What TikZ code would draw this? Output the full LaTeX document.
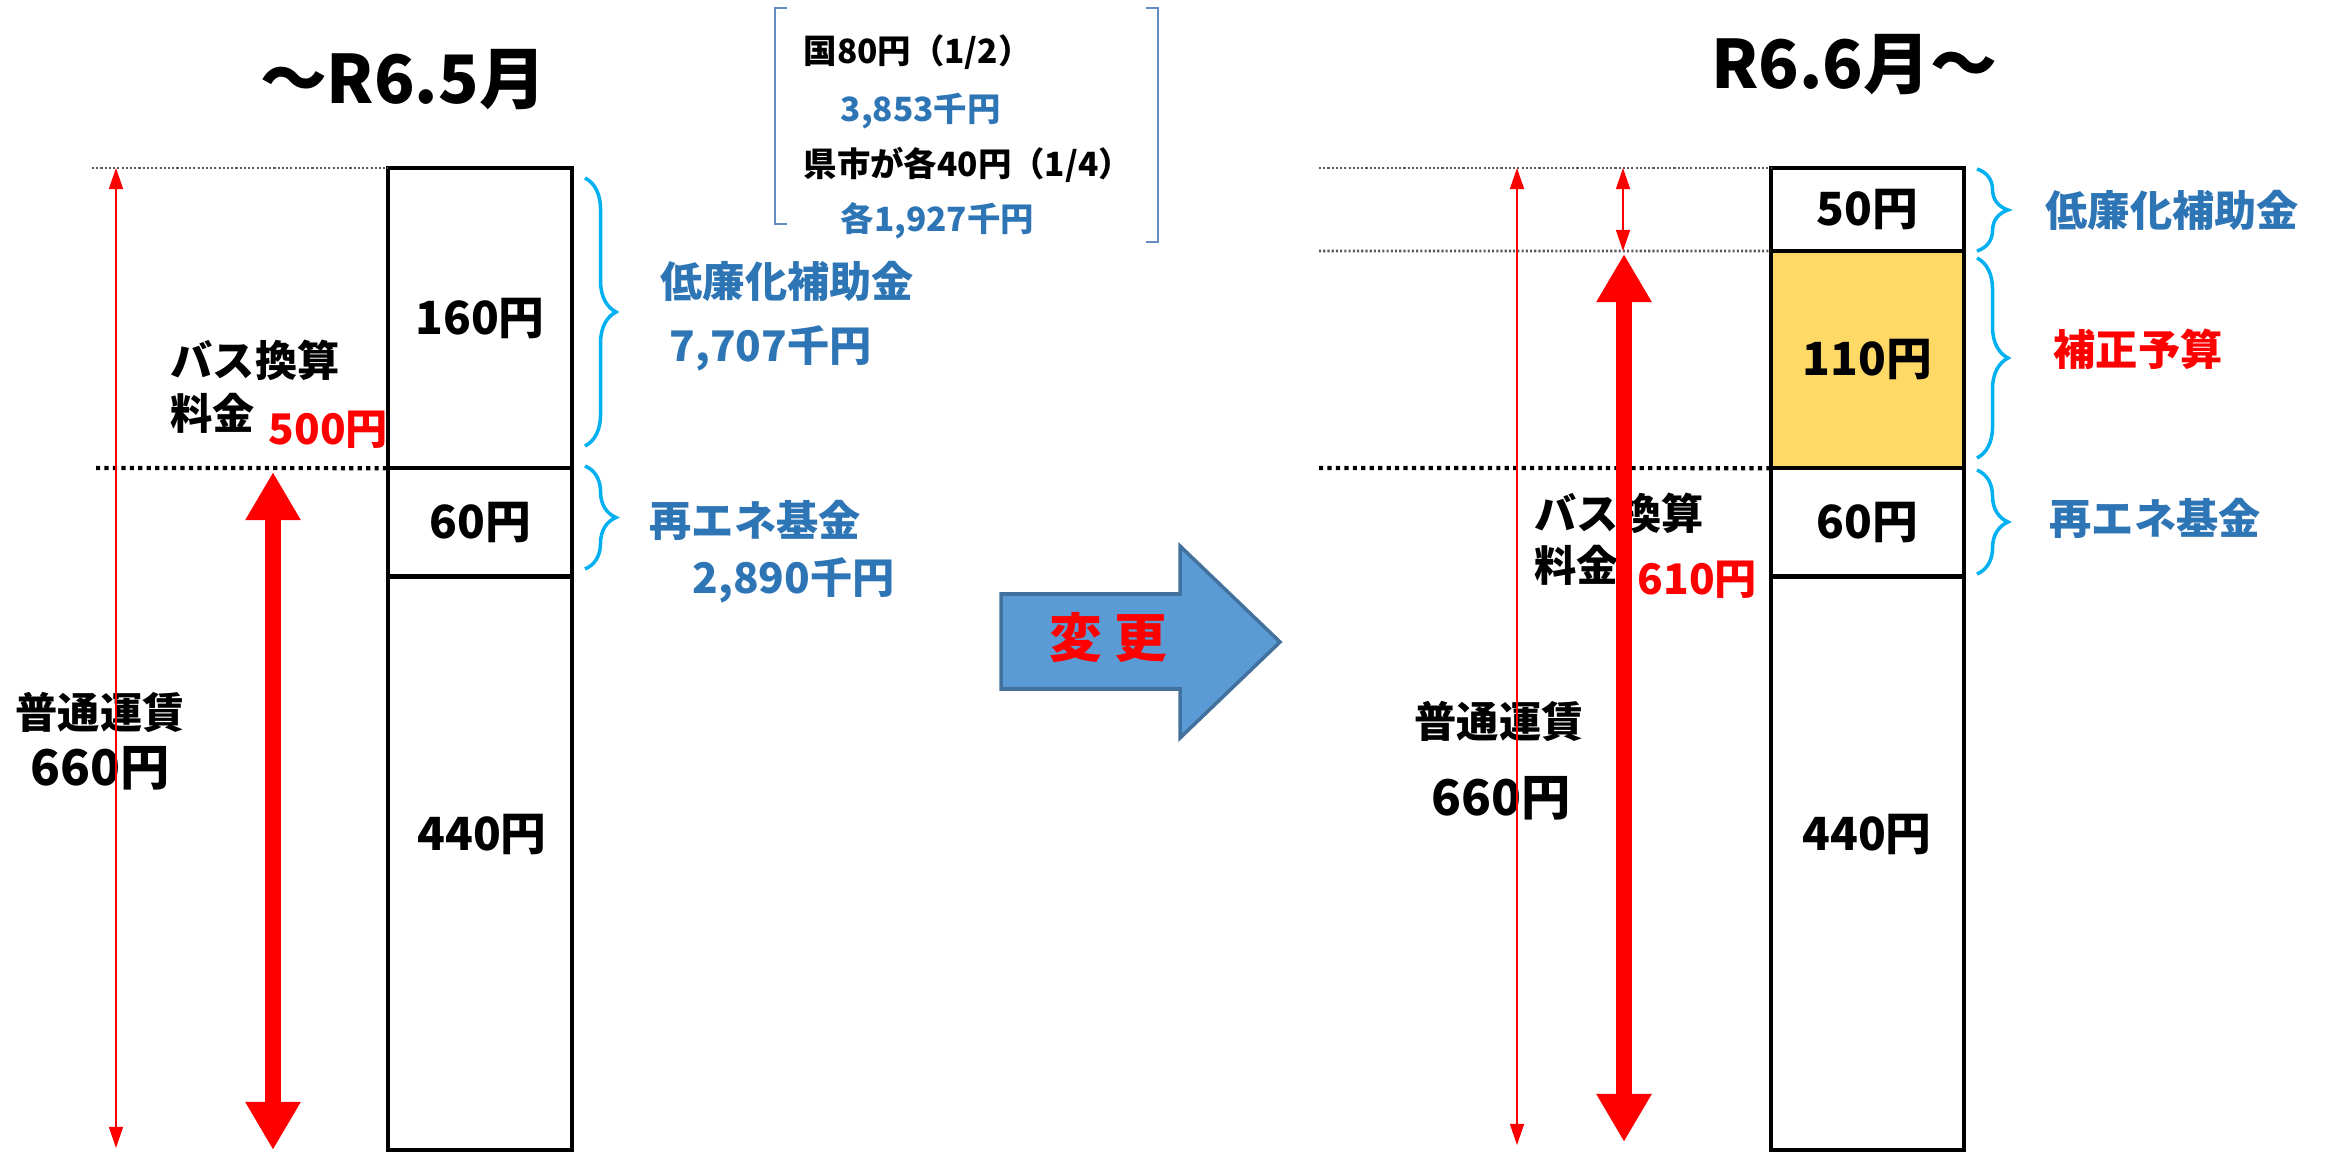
\documentclass[tikz,border=0pt]{standalone}
\usepackage{fontspec}
\setmainfont{Noto Sans CJK JP}
\usetikzlibrary{arrows.meta,decorations.pathreplacing}
\definecolor{fundblue}{RGB}{46,117,182}
\definecolor{bracecyan}{RGB}{0,176,240}
\definecolor{budgetyellow}{RGB}{255,217,102}
\definecolor{arrowblue}{RGB}{91,155,213}
\definecolor{arrowedge}{RGB}{65,113,156}
\definecolor{noteblue}{RGB}{101,141,196}

\begin{document}
\begin{tikzpicture}[x=0.01cm,y=-0.01cm,
	seg/.style={draw,line width=1.3pt,anchor=north west,inner sep=0pt,outer sep=0pt,font=\bfseries\fontsize{13}{15}\selectfont},
	num/.style={font=\bfseries\fontsize{13}{15}\selectfont},
	title/.style={font=\bfseries\fontsize{19}{22}\selectfont},
	lbl/.style={anchor=west,inner sep=0pt,font=\bfseries\fontsize{12}{14}\selectfont},
	note/.style={anchor=west,inner sep=0pt,font=\bfseries\fontsize{9.5}{11}\selectfont},
	fundbrace/.style={draw=bracecyan,line width=1pt,decorate,decoration={brace,amplitude=0.31cm}},
	guide/.style={line width=0.8pt,black!65,dash pattern=on 0.6pt off 0.6pt},
	midguide/.style={line width=1.2pt,dash pattern=on 1.2pt off 1.2pt},
	thinarrow/.style={red,line width=0.4pt,{Triangle[length=6pt,width=4pt]}-{Triangle[length=6pt,width=4pt]}},
	thickarrow/.style={red,line width=4.3pt,{Triangle[length=13.7pt,width=14.8pt]}-{Triangle[length=13.7pt,width=14.8pt]}}]
	\useasboundingbox (0,0) rectangle (2333,1152);
	%\draw[help lines,step=1cm] (0,0) grid (2333,1152);
	% before
	\node[title] (oldtitle) at (403,80) {～R6.5月};
	\node[seg,minimum width=1.84cm,minimum height=3cm] (oldsub) at (388,168) {160円};
	\node[seg,minimum width=1.84cm,minimum height=1.08cm] (oldfund) at (oldsub.south west) {60円};
	\node[seg,minimum width=1.84cm,minimum height=5.74cm] (oldbase) at (oldfund.south west) {};
	\node[num] (oldbasetxt) at (482,835) {440円};
	\coordinate (oldguideA) at (92,168);
	\coordinate (oldguideB) at (96,468);
	\draw[guide] (oldguideA) -- (oldsub.north west);
	\draw[midguide] (oldguideB) -- (oldfund.north west);
	\draw[fundbrace] (585,178) -- (585,446);
	\draw[fundbrace] (585,466) -- (585,569);
	\node[lbl,text=fundblue] (oldsublbl) at (660,281) {低廉化補助金};
	\node[lbl,text=fundblue] (oldsubsum) at (669,348) {7,707千円};
	\node[lbl,text=fundblue] (oldfundlbl) at (649,520) {再エネ基金};
	\node[lbl,text=fundblue] (oldfundsum) at (692,580) {2,890千円};
	\draw[noteblue,line width=0.8pt] (787,8) -- (775,8) -- (775,224) -- (787,224);
	\draw[noteblue,line width=0.8pt] (1146,8) -- (1158,8) -- (1158,242) -- (1146,242);
	\node[note] (notestate) at (803,52) {国80円（1/2）};
	\node[note,text=fundblue] (notestatesum) at (840,111) {3,853千円};
	\node[note] (notelocal) at (803,165) {県市が各40円（1/4）};
	\node[note,text=fundblue] (notelocalsum) at (840,221) {各1,927千円};
	\node[lbl] (oldbus) at (170,360) {バス換算};
	\node[lbl] (oldbusb) at (170,413) {料金};
	\node[lbl,red] (oldbusfare) at (268,430) {500円};
	\node[lbl] (oldfare) at (15,712) {普通運賃};
	\node[lbl,font=\bfseries\fontsize{14}{16}\selectfont] (oldfaresum) at (30,768) {660円};
	\coordinate (oldtop) at (116,168);
	\coordinate (oldfoot) at (116,1148);
	\coordinate (oldbustop) at (273,472);
	\coordinate (oldbusfoot) at (273,1150);
	\draw[thinarrow] (oldtop) -- (oldfoot);
	\draw[thickarrow] (oldbustop) -- (oldbusfoot);
	% change
	\draw[fill=arrowblue,draw=arrowedge,line width=1pt] (1001,594) -- (1180,594) -- (1180,546) -- (1280,642) -- (1180,738) -- (1180,689) -- (1001,689) -- cycle;
	\node[red,font=\bfseries\fontsize{15}{17}\selectfont] (change) at (1108,638) {変 更};
	% after
	\node[title] (newtitle) at (1854,65) {R6.6月～};
	\node[seg,minimum width=1.93cm,minimum height=0.83cm] (newsub) at (1771,168) {50円};
	\node[seg,fill=budgetyellow,minimum width=1.93cm,minimum height=2.17cm] (newbudget) at (newsub.south west) {110円};
	\node[seg,minimum width=1.93cm,minimum height=1.08cm] (newfund) at (newbudget.south west) {60円};
	\node[seg,minimum width=1.93cm,minimum height=5.74cm] (newbase) at (newfund.south west) {};
	\node[num] (newbasetxt) at (1867,835) {440円};
	\coordinate (newguideA) at (1319,168);
	\coordinate (newguideB) at (1319,251);
	\coordinate (newguideC) at (1319,468);
	\draw[guide] (newguideA) -- (newsub.north west);
	\draw[guide] (newguideB) -- (newbudget.north west);
	\draw[midguide] (newguideC) -- (newfund.north west);
	\draw[fundbrace] (1977,169) -- (1977,251);
	\draw[fundbrace] (1977,258) -- (1977,458);
	\draw[fundbrace] (1977,470) -- (1977,574);
	\node[lbl,text=fundblue] (newsublbl) at (2045,210) {低廉化補助金};
	\node[lbl,red] (newbudgetlbl) at (2053,349) {補正予算};
	\node[lbl,text=fundblue] (newfundlbl) at (2049,518) {再エネ基金};
	\node[lbl] (newbus) at (1534,513) {バス換算};
	\node[lbl] (newbusb) at (1534,565) {料金};
	\node[lbl,red] (newbusfare) at (1637,580) {610円};
	\node[lbl] (newfare) at (1414,721) {普通運賃};
	\node[lbl,font=\bfseries\fontsize{14}{16}\selectfont] (newfaresum) at (1431,798) {660円};
	\coordinate (newtop) at (1517,168);
	\coordinate (newfoot) at (1517,1145);
	\coordinate (newsubtop) at (1623,168);
	\coordinate (newsubfoot) at (1623,251);
	\coordinate (newbustop) at (1624,254);
	\coordinate (newbusfoot) at (1624,1142);
	\draw[thinarrow] (newtop) -- (newfoot);
	\draw[thinarrow] (newsubtop) -- (newsubfoot);
	\draw[thickarrow] (newbustop) -- (newbusfoot);
\end{tikzpicture}
\end{document}
